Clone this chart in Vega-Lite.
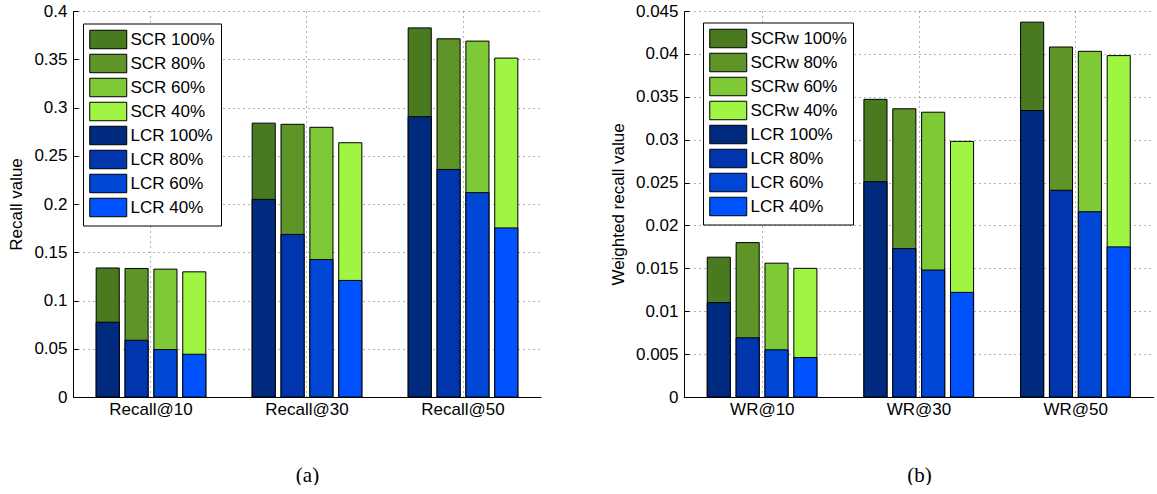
{
  "$schema": "https://vega.github.io/schema/vega-lite/v6.json",
  "padding": {"left": 7, "top": 2, "right": 0, "bottom": 0},
  "background": "white",
  "spacing": 68,
  "config": {
    "view": {"stroke": null},
    "font": "Liberation Sans, Arial, Helvetica, sans-serif",
    "axis": {
      "labelFont": "Liberation Sans, Arial, Helvetica, sans-serif", "labelFontSize": 17, "labelColor": "#000",
      "titleFont": "Liberation Sans, Arial, Helvetica, sans-serif", "titleFontSize": 17, "titleFontWeight": "normal", "titleColor": "#000",
      "domainColor": "#000", "tickColor": "#000", "gridColor": "#555", "gridDash": [1, 4], "gridOpacity": 0.9
    },
    "legend": {
      "labelFont": "Liberation Sans, Arial, Helvetica, sans-serif", "labelFontSize": 17, "labelColor": "#000",
      "strokeColor": "#000", "fillColor": "white", "padding": 6,
      "symbolType": "M-1,-1H3V1H-1Z", "symbolSize": 342, "symbolStrokeColor": "#000", "symbolStrokeWidth": 1,
      "symbolOpacity": 1, "rowPadding": 0, "labelOffset": 21.5, "title": null
    }
  },
  "datasets": {
    "recall": [
      {"group": "Recall@10", "pct": "100%", "kind": "SCR", "series": "SCR 100%", "value": 0.1337},
      {"group": "Recall@10", "pct": "80%", "kind": "SCR", "series": "SCR 80%", "value": 0.1332},
      {"group": "Recall@10", "pct": "60%", "kind": "SCR", "series": "SCR 60%", "value": 0.1325},
      {"group": "Recall@10", "pct": "40%", "kind": "SCR", "series": "SCR 40%", "value": 0.1297},
      {"group": "Recall@30", "pct": "100%", "kind": "SCR", "series": "SCR 100%", "value": 0.2838},
      {"group": "Recall@30", "pct": "80%", "kind": "SCR", "series": "SCR 80%", "value": 0.2826},
      {"group": "Recall@30", "pct": "60%", "kind": "SCR", "series": "SCR 60%", "value": 0.2795},
      {"group": "Recall@30", "pct": "40%", "kind": "SCR", "series": "SCR 40%", "value": 0.2635},
      {"group": "Recall@50", "pct": "100%", "kind": "SCR", "series": "SCR 100%", "value": 0.3825},
      {"group": "Recall@50", "pct": "80%", "kind": "SCR", "series": "SCR 80%", "value": 0.3712},
      {"group": "Recall@50", "pct": "60%", "kind": "SCR", "series": "SCR 60%", "value": 0.3688},
      {"group": "Recall@50", "pct": "40%", "kind": "SCR", "series": "SCR 40%", "value": 0.3512},
      {"group": "Recall@10", "pct": "100%", "kind": "LCR", "series": "LCR 100%", "value": 0.0775},
      {"group": "Recall@10", "pct": "80%", "kind": "LCR", "series": "LCR 80%", "value": 0.0588},
      {"group": "Recall@10", "pct": "60%", "kind": "LCR", "series": "LCR 60%", "value": 0.0492},
      {"group": "Recall@10", "pct": "40%", "kind": "LCR", "series": "LCR 40%", "value": 0.0443},
      {"group": "Recall@30", "pct": "100%", "kind": "LCR", "series": "LCR 100%", "value": 0.2048},
      {"group": "Recall@30", "pct": "80%", "kind": "LCR", "series": "LCR 80%", "value": 0.1685},
      {"group": "Recall@30", "pct": "60%", "kind": "LCR", "series": "LCR 60%", "value": 0.1425},
      {"group": "Recall@30", "pct": "40%", "kind": "LCR", "series": "LCR 40%", "value": 0.1208},
      {"group": "Recall@50", "pct": "100%", "kind": "LCR", "series": "LCR 100%", "value": 0.2905},
      {"group": "Recall@50", "pct": "80%", "kind": "LCR", "series": "LCR 80%", "value": 0.2358},
      {"group": "Recall@50", "pct": "60%", "kind": "LCR", "series": "LCR 60%", "value": 0.2118},
      {"group": "Recall@50", "pct": "40%", "kind": "LCR", "series": "LCR 40%", "value": 0.1752}
    ],
    "weighted": [
      {"group": "WR@10", "pct": "100%", "kind": "SCR", "series": "SCRw 100%", "value": 0.0163},
      {"group": "WR@10", "pct": "80%", "kind": "SCR", "series": "SCRw 80%", "value": 0.0180},
      {"group": "WR@10", "pct": "60%", "kind": "SCR", "series": "SCRw 60%", "value": 0.0156},
      {"group": "WR@10", "pct": "40%", "kind": "SCR", "series": "SCRw 40%", "value": 0.0150},
      {"group": "WR@30", "pct": "100%", "kind": "SCR", "series": "SCRw 100%", "value": 0.0347},
      {"group": "WR@30", "pct": "80%", "kind": "SCR", "series": "SCRw 80%", "value": 0.0336},
      {"group": "WR@30", "pct": "60%", "kind": "SCR", "series": "SCRw 60%", "value": 0.0332},
      {"group": "WR@30", "pct": "40%", "kind": "SCR", "series": "SCRw 40%", "value": 0.0298},
      {"group": "WR@50", "pct": "100%", "kind": "SCR", "series": "SCRw 100%", "value": 0.0437},
      {"group": "WR@50", "pct": "80%", "kind": "SCR", "series": "SCRw 80%", "value": 0.0408},
      {"group": "WR@50", "pct": "60%", "kind": "SCR", "series": "SCRw 60%", "value": 0.0403},
      {"group": "WR@50", "pct": "40%", "kind": "SCR", "series": "SCRw 40%", "value": 0.0398},
      {"group": "WR@10", "pct": "100%", "kind": "LCR", "series": "LCR 100%", "value": 0.0110},
      {"group": "WR@10", "pct": "80%", "kind": "LCR", "series": "LCR 80%", "value": 0.0069},
      {"group": "WR@10", "pct": "60%", "kind": "LCR", "series": "LCR 60%", "value": 0.0055},
      {"group": "WR@10", "pct": "40%", "kind": "LCR", "series": "LCR 40%", "value": 0.0046},
      {"group": "WR@30", "pct": "100%", "kind": "LCR", "series": "LCR 100%", "value": 0.0251},
      {"group": "WR@30", "pct": "80%", "kind": "LCR", "series": "LCR 80%", "value": 0.0173},
      {"group": "WR@30", "pct": "60%", "kind": "LCR", "series": "LCR 60%", "value": 0.0148},
      {"group": "WR@30", "pct": "40%", "kind": "LCR", "series": "LCR 40%", "value": 0.0122},
      {"group": "WR@50", "pct": "100%", "kind": "LCR", "series": "LCR 100%", "value": 0.0334},
      {"group": "WR@50", "pct": "80%", "kind": "LCR", "series": "LCR 80%", "value": 0.0241},
      {"group": "WR@50", "pct": "60%", "kind": "LCR", "series": "LCR 60%", "value": 0.0216},
      {"group": "WR@50", "pct": "40%", "kind": "LCR", "series": "LCR 40%", "value": 0.0175}
    ]
  },
  "resolve": {"scale": {"color": "independent", "x": "independent", "y": "independent"}, "legend": {"color": "independent"}},
  "hconcat": [
    {
      "width": 468,
      "height": 386,
      "data": {"name": "recall"},
      "encoding": {
        "x": {"field": "group", "type": "nominal", "sort": null,
          "scale": {"paddingInner": 0.26, "paddingOuter": 0.13},
          "axis": {"title": "(a)", "titleFont": "Liberation Serif, Times New Roman, serif", "titleFontSize": 21, "titlePadding": 47, "labelAngle": 0, "labelPadding": 4, "tickSize": 0, "grid": true, "bandPosition": 0.5}},
        "xOffset": {"field": "pct", "type": "nominal", "sort": ["100%", "80%", "60%", "40%"], "scale": {"paddingInner": 0.2, "paddingOuter": 0.1}},
        "y": {"field": "value", "type": "quantitative", "stack": null,
          "scale": {"domain": [0, 0.4], "nice": false},
          "axis": {"title": "Recall value", "values": [0, 0.05, 0.1, 0.15, 0.2, 0.25, 0.3, 0.35, 0.4], "format": "~g", "tickSize": -5, "labelPadding": 11, "titlePadding": 8, "grid": true}},
        "color": {"field": "series", "type": "nominal",
          "scale": {"domain": ["SCR 100%", "SCR 80%", "SCR 60%", "SCR 40%", "LCR 100%", "LCR 80%", "LCR 60%", "LCR 40%"],
            "range": ["#4a7a1f", "#5e9428", "#80c936", "#a0f542", "#002a7d", "#0035ad", "#0047d6", "#0052ff"]},
          "legend": {"orient": "none", "legendX": 10, "legendY": 12.5}}
      },
      "layer": [
        {"transform": [{"filter": "datum.kind === 'SCR'"}], "mark": {"type": "bar", "stroke": "#000", "strokeWidth": 1, "opacity": 1}},
        {"transform": [{"filter": "datum.kind === 'LCR'"}], "mark": {"type": "bar", "stroke": "#000", "strokeWidth": 1, "opacity": 1}}
      ]
    },
    {
      "width": 470,
      "height": 386,
      "data": {"name": "weighted"},
      "encoding": {
        "x": {"field": "group", "type": "nominal", "sort": null,
          "scale": {"paddingInner": 0.26, "paddingOuter": 0.13},
          "axis": {"title": "(b)", "titleFont": "Liberation Serif, Times New Roman, serif", "titleFontSize": 21, "titlePadding": 47, "labelAngle": 0, "labelPadding": 4, "tickSize": 0, "grid": true, "bandPosition": 0.5}},
        "xOffset": {"field": "pct", "type": "nominal", "sort": ["100%", "80%", "60%", "40%"], "scale": {"paddingInner": 0.2, "paddingOuter": 0.1}},
        "y": {"field": "value", "type": "quantitative", "stack": null,
          "scale": {"domain": [0, 0.045], "nice": false},
          "axis": {"title": "Weighted recall value", "values": [0, 0.005, 0.01, 0.015, 0.02, 0.025, 0.03, 0.035, 0.04, 0.045], "format": "~g", "tickSize": -5, "labelPadding": 11, "titlePadding": 8, "grid": true}},
        "color": {"field": "series", "type": "nominal",
          "scale": {"domain": ["SCRw 100%", "SCRw 80%", "SCRw 60%", "SCRw 40%", "LCR 100%", "LCR 80%", "LCR 60%", "LCR 40%"],
            "range": ["#4a7a1f", "#5e9428", "#80c936", "#a0f542", "#002a7d", "#0035ad", "#0047d6", "#0052ff"]},
          "legend": {"orient": "none", "legendX": 19, "legendY": 11.5}}
      },
      "layer": [
        {"transform": [{"filter": "datum.kind === 'SCR'"}], "mark": {"type": "bar", "stroke": "#000", "strokeWidth": 1, "opacity": 1}},
        {"transform": [{"filter": "datum.kind === 'LCR'"}], "mark": {"type": "bar", "stroke": "#000", "strokeWidth": 1, "opacity": 1}}
      ]
    }
  ]
}
